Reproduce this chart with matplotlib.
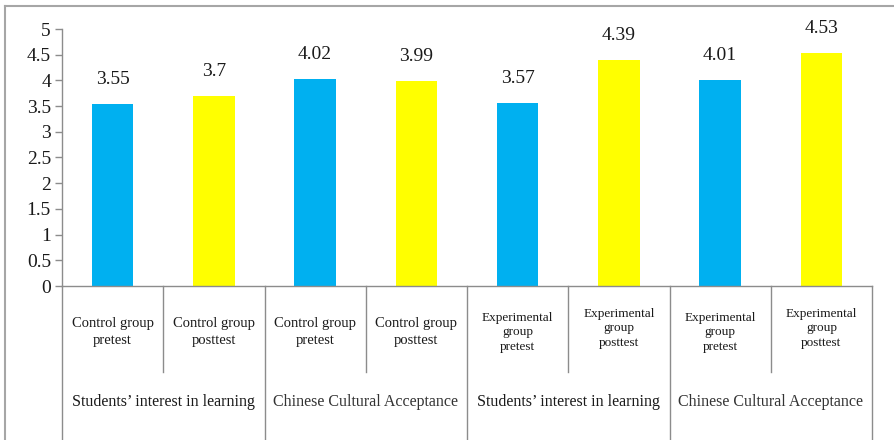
import matplotlib.pyplot as plt
from matplotlib.lines import Line2D

# bar data, left to right
bar_labels = [
    "Control group\npretest", "Control group\nposttest",
    "Control group\npretest", "Control group\nposttest",
    "Experimental\ngroup\npretest", "Experimental\ngroup\nposttest",
    "Experimental\ngroup\npretest", "Experimental\ngroup\nposttest",
]
scores = [3.55, 3.7, 4.02, 3.99, 3.57, 4.39, 4.01, 4.53]
value_text = ["3.55", "3.7", "4.02", "3.99", "3.57", "4.39", "4.01", "4.53"]
group_labels = [
    "Students\u2019 interest in learning", "Chinese Cultural Acceptance",
    "Students\u2019 interest in learning", "Chinese Cultural Acceptance",
]
y_ticks = [0, 0.5, 1, 1.5, 2, 2.5, 3, 3.5, 4, 4.5, 5]
y_tick_labels = ["0", "0.5", "1", "1.5", "2", "2.5", "3", "3.5", "4", "4.5", "5"]

BLUE = "#00B0F0"
YELLOW = "#FFFF00"
GRID = "#8C8C8C"
SERIF = "Liberation Serif"

W, H = 894, 440
fig = plt.figure(figsize=(W / 100, H / 100), dpi=100)


def px_box(x0, y_top, x1, y_bot):
    return [x0 / W, 1 - y_bot / H, (x1 - x0) / W, (y_bot - y_top) / H]


# ----- bar axes
ax = fig.add_axes(px_box(62, 29, 872, 286))
colors = [BLUE if i % 2 == 0 else YELLOW for i in range(len(scores))]
xs = [i + 0.5 for i in range(len(scores))]
ax.bar(xs, scores, width=0.41, color=colors, zorder=2)
for x, v, t in zip(xs, scores, value_text):
    ax.annotate(t, (x, v), xytext=(0, 11.5), textcoords="offset points",
                ha="center", va="bottom", fontsize=14, family=SERIF,
                color="#1a1a1a")

ax.set_xlim(0, len(scores))
ax.set_ylim(0, 5)
ax.set_yticks(y_ticks)
ax.set_yticklabels(y_tick_labels, fontsize=14, family=SERIF, color="#1a1a1a")
ax.set_xticks([])
ax.tick_params(axis="y", direction="out", length=5, width=1, color=GRID, pad=3)
for side in ("top", "right"):
    ax.spines[side].set_visible(False)
for side in ("left", "bottom"):
    ax.spines[side].set_color(GRID)
    ax.spines[side].set_linewidth(1)

# ----- category table under the bars
tab = fig.add_axes(px_box(62, 286, 872, 440))
tab.set_xlim(0, len(scores))
tab.set_ylim(0, 1)
tab.axis("off")
sub_bottom = (440 - 372) / 154
for i in range(len(scores) + 1):
    y0 = 0 if i % 2 == 0 else sub_bottom
    tab.plot([i, i], [y0, 1], color=GRID, lw=1, clip_on=False)
for i, lab in enumerate(bar_labels):
    if lab.startswith("Control"):
        fs, ls, y = 10.5, 1.45, 0.70
    else:
        fs, ls, y = 9.5, 1.3, 0.70 if i % 2 == 0 else 0.725
    tab.text(i + 0.5, y, lab, ha="center", va="center", fontsize=fs,
             family=SERIF, linespacing=ls, color="#1a1a1a")
for j, lab in enumerate(group_labels):
    tab.text(2 * j + 1, 0.25, lab, ha="center", va="center", fontsize=11.5,
             family=SERIF, color="#1a1a1a" if j % 2 == 0 else "#333333")

# ----- light frame around the picture
frame = "#A6A6A6"
fig.add_artist(Line2D([5 / W, 5 / W], [0, 1 - 6 / H], color=frame, lw=1.5,
                      transform=fig.transFigure))
fig.add_artist(Line2D([5 / W, 1], [1 - 6 / H, 1 - 6 / H], color=frame, lw=1.5,
                      transform=fig.transFigure))

fig.savefig("out.png", dpi=100)
